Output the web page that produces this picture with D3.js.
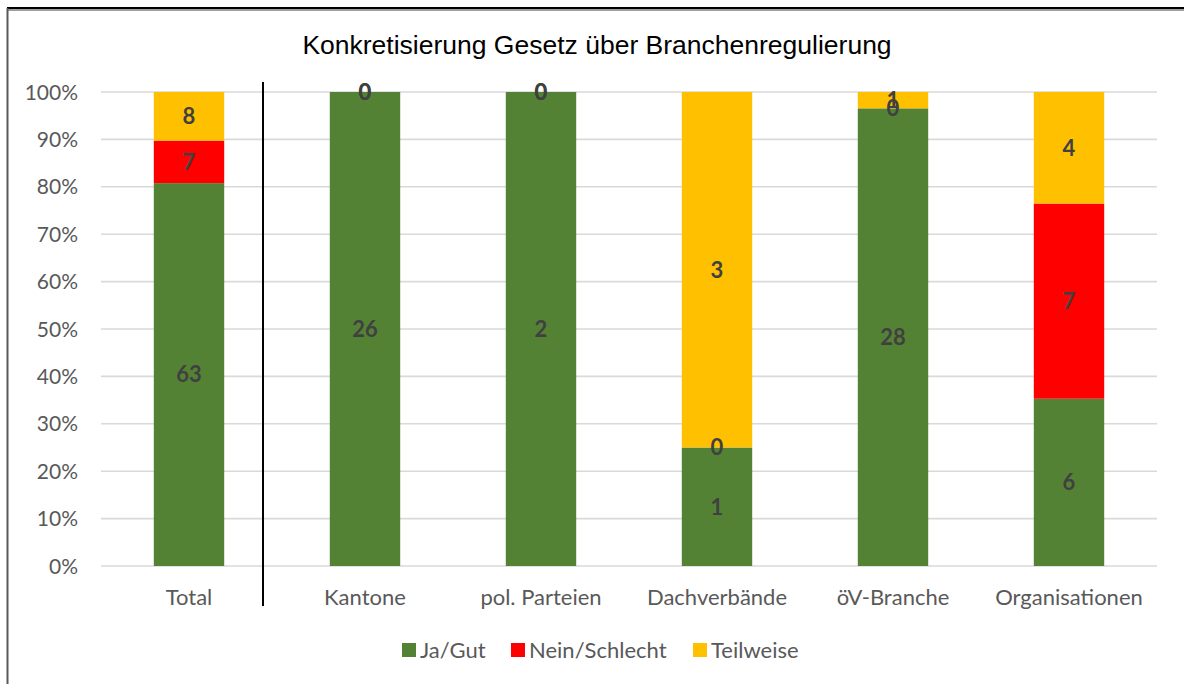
<!DOCTYPE html>
<html><head><meta charset="utf-8">
<script src="https://cdn.jsdelivr.net/npm/d3@7"></script>
<style>body{margin:0;background:#fff}svg{display:block}</style>
</head><body>
<svg id="c" width="1184" height="684"></svg>
<script>
const categories = ["Total","Kantone","pol. Parteien","Dachverbände","öV-Branche","Organisationen"];
const jaGut = [63,26,2,1,28,6];
const neinSchlecht = [7,0,0,0,0,7];
const teilweise = [8,0,0,3,1,4];
const seriesNames = ["Ja/Gut","Nein/Schlecht","Teilweise"];
const seriesColors = ["#548235","#FF0000","#FFC000"];
const yTicks = [0,0.1,0.2,0.3,0.4,0.5,0.6,0.7,0.8,0.9,1];
const title = "Konkretisierung Gesetz über Branchenregulierung";

const svg = d3.select("#c");
const W=1184,H=684;
const font = "Lato, 'Open Sans', sans-serif";
const fs = 22;

// frame
svg.append("rect").attr("x",0).attr("y",0).attr("width",W).attr("height",H).attr("fill","#fff");
svg.append("line").attr("x1",7).attr("x2",W).attr("y1",10).attr("y2",10).attr("stroke","#7f7f7f").attr("stroke-width",1.5);
svg.append("line").attr("x1",7).attr("x2",W).attr("y1",8).attr("y2",8).attr("stroke","#000").attr("stroke-width",2);
svg.append("line").attr("x1",7.5).attr("x2",7.5).attr("y1",8).attr("y2",H).attr("stroke","#595959").attr("stroke-width",2);

const x = d3.scaleBand().domain(categories).range([101,1157]).paddingInner(0.6).paddingOuter(0.3);
const y = d3.scaleLinear().domain([0,1]).range([566,92]);

// title
svg.append("text").attr("x",597).attr("y",54).attr("text-anchor","middle")
  .attr("font-family","'Liberation Sans', Arial, sans-serif").attr("font-size",26.5).attr("fill","#000").text(title);

// grid
svg.append("g").selectAll("line").data(yTicks).join("line")
  .attr("x1",101).attr("x2",1157).attr("y1",d=>y(d)).attr("y2",d=>y(d))
  .attr("stroke","#d9d9d9").attr("stroke-width",1.6);
// y labels
svg.append("g").selectAll("text").data(yTicks).join("text")
  .attr("x",78).attr("y",d=>y(d)).attr("dy","0.36em").attr("text-anchor","end")
  .attr("font-family",font).attr("font-size",21).attr("fill","#595959")
  .text(d=>d3.format(".0%")(d));

// stack
const rows = categories.map((c,i)=>({cat:c,"Ja/Gut":jaGut[i],"Nein/Schlecht":neinSchlecht[i],"Teilweise":teilweise[i]}));
const stack = d3.stack().keys(seriesNames).offset(d3.stackOffsetExpand);
const layers = stack(rows);

layers.forEach((layer,li)=>{
  svg.append("g").selectAll("rect").data(layer).join("rect")
    .attr("x",d=>x(d.data.cat)).attr("width",x.bandwidth())
    .attr("y",d=>y(d[1])).attr("height",d=>y(d[0])-y(d[1]))
    .attr("fill",seriesColors[li]);
});
layers.forEach((layer,li)=>{
  svg.append("g").selectAll("text").data(layer).join("text")
    .attr("x",d=>x(d.data.cat)+x.bandwidth()/2)
    .attr("y",d=>y((d[0]+d[1])/2)).attr("dy","0.36em").attr("text-anchor","middle")
    .attr("font-family",font).attr("font-size",fs).attr("font-weight","bold").attr("fill","#404040")
    .text(d=>d.data[layer.key]);
});

// separator
svg.append("line").attr("x1",263).attr("x2",263).attr("y1",82).attr("y2",606).attr("stroke","#000").attr("stroke-width",2);

// x labels
svg.append("g").selectAll("text").data(categories).join("text")
  .attr("x",d=>x(d)+x.bandwidth()/2).attr("y",605).attr("text-anchor","middle")
  .attr("font-family",font).attr("font-size",fs).attr("fill","#595959").text(d=>d);

// legend
const legX = [402,511,693];
const lg = svg.append("g").selectAll("g").data(seriesNames).join("g")
  .attr("transform",(d,i)=>`translate(${legX[i]},643)`);
lg.append("rect").attr("width",14).attr("height",14).attr("fill",(d,i)=>seriesColors[i]);
lg.append("text").attr("x",18).attr("y",7).attr("dy","0.36em")
  .attr("font-family",font).attr("font-size",fs).attr("fill","#595959").text(d=>d);
</script>
</body></html>
